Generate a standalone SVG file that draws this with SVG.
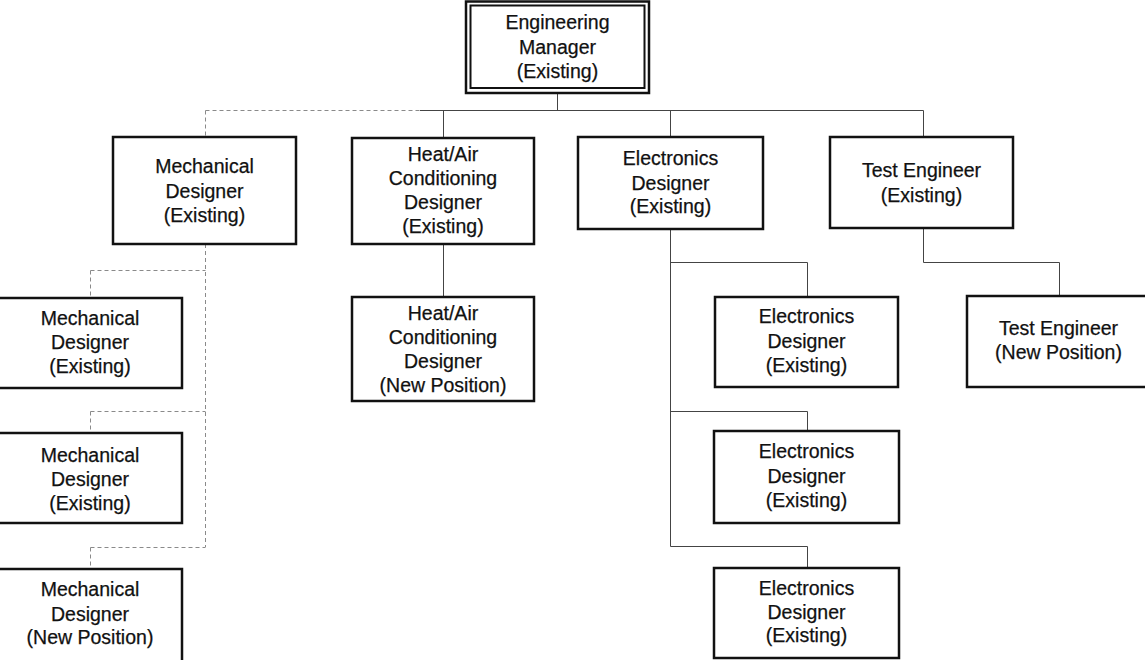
<svg xmlns="http://www.w3.org/2000/svg" width="1145" height="660" viewBox="0 0 1145 660">
  <style>
    .box { fill: #fff; stroke: #111; stroke-width: 2.5; }
    .inner { fill: none; stroke: #111; stroke-width: 2; }
    .lbl { font-family: "Liberation Sans", Arial, Helvetica, sans-serif; font-size: 19.5px; fill: #111; stroke: #111; stroke-width: 0.25; text-anchor: middle; }
    .ln { fill: none; stroke: #444; stroke-width: 1; }
    .faint { fill: none; stroke: #8a8a8a; stroke-width: 1; stroke-dasharray: 4 3; }
  </style>
  <rect width="1145" height="660" fill="#fff"/>

  <!-- reporting lines -->
  <g id="connectors">
    <path class="ln" d="M557.5 93 V110.5"/>
    <path class="faint" d="M205.5 110.5 H420"/>
    <path class="ln" d="M420 110.5 H923.5"/>
    <path class="faint" d="M205.5 110.5 V137"/>
    <path class="ln" d="M443.5 110.5 V138"/>
    <path class="ln" d="M670.5 110.5 V137"/>
    <path class="ln" d="M923.5 110.5 V137"/>

    <!-- mechanical branch -->
    <path class="faint" d="M205.5 244 V547"/>
    <path class="faint" d="M90.5 270.5 H205.5 M90.5 270.5 V298"/>
    <path class="faint" d="M90.5 411.5 H205.5 M90.5 411.5 V433"/>
    <path class="faint" d="M90.5 547.5 H205.5 M90.5 547.5 V569"/>

    <!-- heat/air branch -->
    <path class="ln" d="M443.5 244 V297"/>

    <!-- electronics branch -->
    <path class="ln" d="M670.5 229 V546.5"/>
    <path class="ln" d="M670.5 262.5 H807.5 V297"/>
    <path class="ln" d="M670.5 411.5 H807.5 V431"/>
    <path class="ln" d="M670.5 546.5 H807.5 V568"/>

    <!-- test branch -->
    <path class="ln" d="M923.5 228 V262.5 H1059.5 V296"/>
  </g>

  <g id="engineering-manager">
    <rect class="box" x="466" y="1.5" width="183" height="91.5"/>
    <rect class="inner" x="470.5" y="5.5" width="174" height="82.5"/>
    <text class="lbl" x="557.5" y="29">Engineering</text>
    <text class="lbl" x="557.5" y="54">Manager</text>
    <text class="lbl" x="557.5" y="78">(Existing)</text>
  </g>

  <g id="mechanical-designer">
    <rect class="box" x="113" y="137" width="183" height="107"/>
    <text class="lbl" x="204.5" y="173">Mechanical</text>
    <text class="lbl" x="204.5" y="198">Designer</text>
    <text class="lbl" x="204.5" y="222">(Existing)</text>
  </g>

  <g id="heat-air-designer">
    <rect class="box" x="352" y="138" width="182" height="106"/>
    <text class="lbl" x="443" y="161">Heat/Air</text>
    <text class="lbl" x="443" y="185">Conditioning</text>
    <text class="lbl" x="443" y="209">Designer</text>
    <text class="lbl" x="443" y="233">(Existing)</text>
  </g>

  <g id="electronics-designer">
    <rect class="box" x="578" y="137" width="185" height="92"/>
    <text class="lbl" x="670.5" y="165">Electronics</text>
    <text class="lbl" x="670.5" y="190">Designer</text>
    <text class="lbl" x="670.5" y="213">(Existing)</text>
  </g>

  <g id="test-engineer">
    <rect class="box" x="830" y="137" width="183" height="91"/>
    <text class="lbl" x="921.5" y="177">Test Engineer</text>
    <text class="lbl" x="921.5" y="202">(Existing)</text>
  </g>

  <g id="mechanical-designer-2">
    <rect class="box" x="-3" y="298" width="185" height="90"/>
    <text class="lbl" x="90" y="325">Mechanical</text>
    <text class="lbl" x="90" y="349">Designer</text>
    <text class="lbl" x="90" y="373">(Existing)</text>
  </g>

  <g id="mechanical-designer-3">
    <rect class="box" x="-3" y="433" width="185" height="90"/>
    <text class="lbl" x="90" y="462">Mechanical</text>
    <text class="lbl" x="90" y="486">Designer</text>
    <text class="lbl" x="90" y="510">(Existing)</text>
  </g>

  <g id="mechanical-designer-new">
    <rect class="box" x="-3" y="569" width="185" height="94"/>
    <text class="lbl" x="90" y="596">Mechanical</text>
    <text class="lbl" x="90" y="621">Designer</text>
    <text class="lbl" x="90" y="644">(New Position)</text>
  </g>

  <g id="heat-air-designer-new">
    <rect class="box" x="352" y="297" width="182" height="104"/>
    <text class="lbl" x="443" y="320">Heat/Air</text>
    <text class="lbl" x="443" y="344">Conditioning</text>
    <text class="lbl" x="443" y="368">Designer</text>
    <text class="lbl" x="443" y="392">(New Position)</text>
  </g>

  <g id="electronics-designer-2">
    <rect class="box" x="715" y="297" width="183" height="90"/>
    <text class="lbl" x="806.5" y="323">Electronics</text>
    <text class="lbl" x="806.5" y="348">Designer</text>
    <text class="lbl" x="806.5" y="372">(Existing)</text>
  </g>

  <g id="electronics-designer-3">
    <rect class="box" x="714" y="431" width="185" height="92"/>
    <text class="lbl" x="806.5" y="458">Electronics</text>
    <text class="lbl" x="806.5" y="483">Designer</text>
    <text class="lbl" x="806.5" y="507">(Existing)</text>
  </g>

  <g id="electronics-designer-4">
    <rect class="box" x="714" y="568" width="185" height="90"/>
    <text class="lbl" x="806.5" y="595">Electronics</text>
    <text class="lbl" x="806.5" y="619">Designer</text>
    <text class="lbl" x="806.5" y="642">(Existing)</text>
  </g>

  <g id="test-engineer-new">
    <rect class="box" x="967" y="296" width="184" height="91"/>
    <text class="lbl" x="1058.5" y="335">Test Engineer</text>
    <text class="lbl" x="1058.5" y="359">(New Position)</text>
  </g>
</svg>
